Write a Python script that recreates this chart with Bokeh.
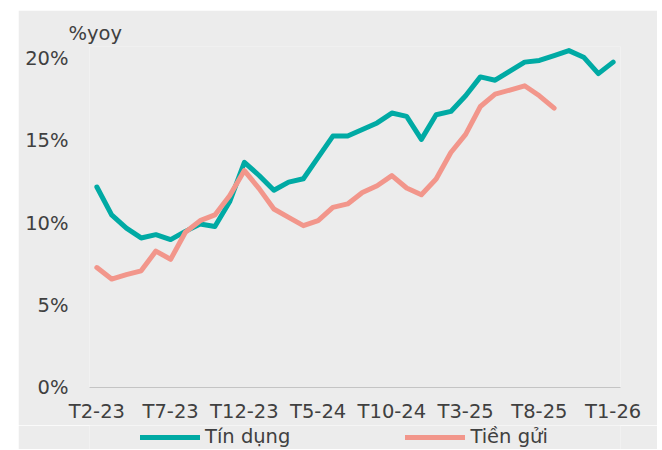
from bokeh.plotting import figure
from bokeh.models import (FixedTicker, Range1d, Legend, LegendItem, Spacer,
                          PrintfTickFormatter, ColumnDataSource)
from bokeh.layouts import column, row
from bokeh.embed import file_html
from bokeh.resources import INLINE

months = ["T2-23", "T3-23", "T4-23", "T5-23", "T6-23", "T7-23", "T8-23", "T9-23",
          "T10-23", "T11-23", "T12-23",
          "T1-24", "T2-24", "T3-24", "T4-24", "T5-24", "T6-24", "T7-24", "T8-24",
          "T9-24", "T10-24", "T11-24", "T12-24",
          "T1-25", "T2-25", "T3-25", "T4-25", "T5-25", "T6-25", "T7-25", "T8-25",
          "T9-25", "T10-25", "T11-25", "T12-25",
          "T1-26"]

credit = [12.2, 10.5, 9.7, 9.1, 9.3, 9.0, 9.5, 9.95, 9.8, 11.3, 13.7,
          12.9, 12.0, 12.5, 12.7, 14.0, 15.3, 15.3, 15.7, 16.1, 16.7, 16.5, 15.1,
          16.6, 16.8, 17.75, 18.9, 18.7, 19.25, 19.8, 19.9, 20.2, 20.5, 20.1, 19.1,
          19.8]

deposit = [7.3, 6.6, 6.87, 7.1, 8.3, 7.8, 9.45, 10.15, 10.5, 11.67, 13.2,
           12.1, 10.86, 10.35, 9.85, 10.15, 10.96, 11.17, 11.87, 12.28, 12.89, 12.14, 11.73,
           12.69, 14.3, 15.4, 17.1, 17.85, 18.1, 18.36, 17.75, 17.0]

y_ticks = [0, 5, 10, 15, 20]
x_tick_step = 5
series_names = ["Tín dụng", "Tiền gửi"]
unit_label = "%yoy"

BG = "#ececec"
TEAL = "#00aaa4"
SALMON = "#f2968b"
TXT = "#404040"
FONT = "DejaVu Sans"
FS = "19.5px"

p = figure(width=639, height=415, output_backend="svg", toolbar_location=None,
           x_range=Range1d(-0.5, len(months) - 0.5), y_range=Range1d(0, 20.75),
           background_fill_color=BG, border_fill_color=BG,
           min_border_left=71, min_border_right=37, min_border_top=36,
           min_border_bottom=38)
p.outline_line_color = None
p.xgrid.visible = False
p.ygrid.visible = False

p.title.text = unit_label
p.title.align = "left"
p.title.offset = -21
p.title.standoff = 3
p.title.text_font = FONT
p.title.text_font_size = FS
p.title.text_font_style = "normal"
p.title.text_color = TXT

src_c = ColumnDataSource(dict(x=list(range(len(credit))), y=credit))
src_d = ColumnDataSource(dict(x=list(range(len(deposit))), y=deposit))
p.line("x", "y", source=src_c, line_color=TEAL, line_width=5,
       line_join="round", line_cap="round")
p.line("x", "y", source=src_d, line_color=SALMON, line_width=5,
       line_join="round", line_cap="round")

# y axis
p.yaxis.ticker = FixedTicker(ticks=y_ticks)
p.yaxis.formatter = PrintfTickFormatter(format="%d%%")
p.yaxis.axis_line_color = None
p.yaxis.major_tick_line_color = None
p.yaxis.minor_tick_line_color = None
p.yaxis.major_label_standoff = 15
p.yaxis.major_label_text_font = FONT
p.yaxis.major_label_text_font_size = FS
p.yaxis.major_label_text_color = TXT

# x axis
xt = list(range(0, len(months), x_tick_step))
p.xaxis.ticker = FixedTicker(ticks=xt)
p.xaxis.major_label_overrides = {i: months[i] for i in xt}
p.xaxis.axis_line_color = "#c4c4c4"
p.xaxis.axis_line_width = 1
p.xaxis.major_tick_line_color = None
p.xaxis.minor_tick_line_color = None
p.xaxis.major_label_standoff = 6
p.xaxis.major_label_text_font = FONT
p.xaxis.major_label_text_font_size = FS
p.xaxis.major_label_text_color = TXT

# legend strip below the chart (same series, drawn out of view; only the legend shows)
lf = figure(width=639, height=24, output_backend="svg", toolbar_location=None,
            x_range=Range1d(-0.5, len(months) - 0.5), y_range=Range1d(-20, -10),
            x_axis_location=None, y_axis_location=None,
            background_fill_color=BG, border_fill_color=BG,
            min_border=0, min_border_left=71, min_border_right=37,
            min_border_top=0, min_border_bottom=0)
lf.outline_line_color = None
lf.grid.visible = False
g1 = lf.line("x", "y", source=src_c, line_color=TEAL, line_width=5, line_cap="round")
g2 = lf.line("x", "y", source=src_d, line_color=SALMON, line_width=5, line_cap="round")

legend = Legend(items=[LegendItem(label=series_names[0], renderers=[g1]),
                       LegendItem(label=series_names[1], renderers=[g2])],
                orientation="horizontal", location=(51, 1),
                glyph_width=60, glyph_height=20, label_standoff=5, spacing=115,
                padding=0, margin=0, background_fill_alpha=0, border_line_color=None,
                label_text_font=FONT, label_text_font_size=FS, label_text_color=TXT,
                label_height=20)
lf.add_layout(legend)

layout = column(Spacer(height=10),
                row(Spacer(width=18), column(p, lf, spacing=0), spacing=0),
                spacing=0)
open("out.html", "w").write(file_html(layout, INLINE))
